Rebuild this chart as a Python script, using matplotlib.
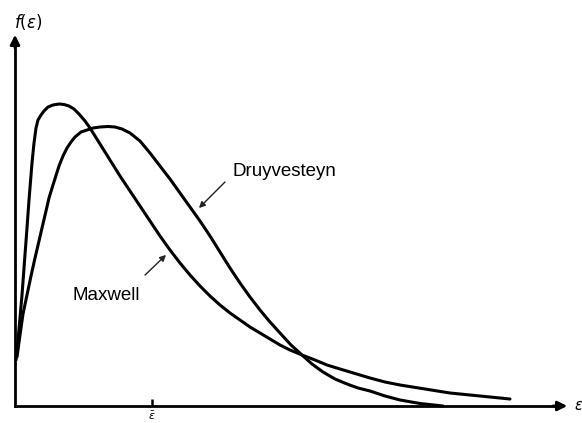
from matplotlib import pyplot as plt
import numpy as np

plt.rcParams['font.family'] = ['Liberation Sans', 'DejaVu Sans']
plt.rcParams['mathtext.fontset'] = 'dejavusans'

# energy and f in arbitrary units
maxwell_e = [0.01, 0.03, 0.05, 0.07, 0.09, 0.12, 0.14, 0.17, 0.19, 0.21,
             0.23, 0.26, 0.29, 0.33, 0.38, 0.44, 0.49, 0.54, 0.59, 0.64,
             0.70, 0.75, 0.85, 0.95, 1.05, 1.15, 1.25, 1.35, 1.45, 1.55,
             1.65, 1.75, 1.85, 1.95, 2.05, 2.15, 2.25, 2.35, 2.45, 2.55,
             2.65, 2.75, 2.87, 3.00, 3.12, 3.25, 3.35, 3.45, 3.55, 3.70,
             3.85, 4.10, 4.35, 4.65, 4.95]
maxwell_f = [0.46, 0.66, 0.88, 1.11, 1.38, 1.78, 2.06, 2.43, 2.63, 2.78,
             2.86, 2.91, 2.95, 2.99, 3.01, 3.02, 3.015, 3.00, 2.97, 2.92,
             2.85, 2.78, 2.62, 2.46, 2.30, 2.15, 2.00, 1.85, 1.70, 1.56,
             1.43, 1.31, 1.20, 1.10, 1.01, 0.93, 0.86, 0.79, 0.73, 0.67,
             0.61, 0.56, 0.51, 0.46, 0.41, 0.37, 0.34, 0.31, 0.28, 0.24,
             0.21, 0.17, 0.13, 0.10, 0.07]

druy_e = [0.02, 0.05, 0.08, 0.12, 0.16, 0.20, 0.24, 0.27, 0.31, 0.34,
          0.38, 0.44, 0.48, 0.52, 0.56, 0.60, 0.66, 0.72, 0.78, 0.85,
          0.93, 1.00, 1.07, 1.15, 1.25, 1.35, 1.45, 1.55, 1.65, 1.75,
          1.85, 1.95, 2.05, 2.15, 2.25, 2.35, 2.45, 2.55, 2.65, 2.76,
          2.87, 2.97, 3.08, 3.20, 3.32, 3.43, 3.55, 3.70, 3.85, 4.05,
          4.28]
druy_f = [0.49, 0.71, 0.92, 1.11, 1.30, 1.48, 1.65, 1.78, 1.95, 2.08,
          2.21, 2.40, 2.50, 2.58, 2.64, 2.69, 2.74, 2.76, 2.78, 2.79,
          2.795, 2.79, 2.77, 2.73, 2.65, 2.53, 2.40, 2.27, 2.13, 1.99,
          1.85, 1.70, 1.54, 1.38, 1.23, 1.09, 0.96, 0.84, 0.73, 0.61,
          0.51, 0.42, 0.34, 0.27, 0.22, 0.18, 0.15, 0.10, 0.06, 0.025,
          0.0]

mean_e = [1.37]
mean_label = [r'$\bar{\varepsilon}$']

fig = plt.figure(figsize=(5.82, 4.23), dpi=100)
ax = fig.add_axes([0, 0, 1, 1])
ax.set_xlim(-0.15, 5.67)
ax.set_ylim(-0.17, 4.06)

# curves
ax.plot(maxwell_e, maxwell_f, color='black', lw=2.2, solid_joinstyle='round', solid_capstyle='round')
ax.plot(druy_e, druy_f, color='black', lw=2.2, solid_joinstyle='round', solid_capstyle='round')

# axes through the origin
for side in ['top', 'right']:
    ax.spines[side].set_visible(False)
ax.spines['left'].set_position(('data', 0))
ax.spines['bottom'].set_position(('data', 0))
ax.spines['left'].set_bounds(0, 3.62)
ax.spines['bottom'].set_bounds(0, 5.42)
ax.spines['left'].set_linewidth(2.0)
ax.spines['bottom'].set_linewidth(2.0)
ax.set_yticks([])
ax.set_xticks(mean_e)
ax.set_xticklabels(mean_label, fontsize=8)
ax.tick_params(axis='x', direction='in', length=5, width=1.8, pad=3)

# arrow heads
ax.annotate('', xy=(0, 3.74), xytext=(0, 3.55),
            arrowprops=dict(arrowstyle='-|>', color='black', lw=2.0, mutation_scale=14))
ax.annotate('', xy=(5.55, 0), xytext=(5.35, 0),
            arrowprops=dict(arrowstyle='-|>', color='black', lw=2.0, mutation_scale=14))

# axis labels
ax.text(-0.01, 3.84, r'$f(\varepsilon)$', fontsize=12, ha='left', va='center')
ax.text(5.585, 0.0, r'$\varepsilon$', fontsize=10.5, ha='left', va='center')

# curve labels
ax.text(0.91, 1.11, 'Maxwell', fontsize=13.5, ha='center', va='center')
ax.text(2.695, 2.34, 'Druyvesteyn', fontsize=13.5, ha='center', va='center')
ax.annotate('', xy=(1.53, 1.53), xytext=(1.28, 1.29),
            arrowprops=dict(arrowstyle='-|>', color='#222222', lw=1.0, mutation_scale=9))
ax.annotate('', xy=(1.82, 1.96), xytext=(2.12, 2.26),
            arrowprops=dict(arrowstyle='-|>', color='#222222', lw=1.0, mutation_scale=9))

fig.savefig('out.png', dpi=100)
